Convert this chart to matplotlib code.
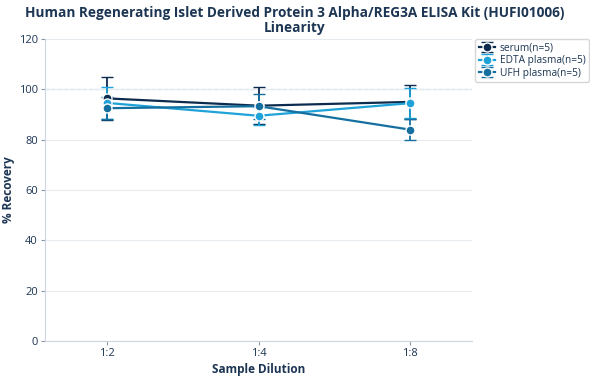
import numpy as np
import matplotlib.pyplot as plt

plt.rcParams['font.family'] = ['Open Sans', 'DejaVu Sans']

dilutions = ['1:2', '1:4', '1:8']
series = ['serum(n=5)', 'EDTA plasma(n=5)', 'UFH plasma(n=5)']
serum = [96.4, 93.5, 95.0]
serum_sd = [8.6, 7.3, 6.7]
edta = [94.6, 89.5, 94.5]
edta_sd = [6.3, 3.6, 6.0]
ufh = [92.5, 93.3, 84.0]
ufh_sd = [4.4, 5.0, 4.2]
colors = ['#0d2b4e', '#1ea2d8', '#15709f']

txt = '#1c3553'
fig = plt.figure(figsize=(5.9, 3.8), dpi=100)
ax = fig.add_axes([45/590, 39/380, 427/590, 302/380])

x = np.arange(len(dilutions))
for vals, sd, c, lab in zip([serum, edta, ufh], [serum_sd, edta_sd, ufh_sd], colors, series):
    ax.errorbar(x, vals, yerr=sd, color=c, lw=1.6, marker='o', ms=6.5,
                mec='white', mew=1, capsize=4, capthick=1.4, elinewidth=1.3,
                label=lab)

ax.axhline(100, color='#8fcbe0', ls=(0, (3, 2)), lw=0.9, zorder=0)
ax.set_ylim(0, 120)
ax.set_yticks(range(0, 121, 20))
ax.set_xlim(-0.41, 2.41)
ax.set_xticks(x)
ax.set_xticklabels(dilutions)
ax.grid(axis='y', color='#e6ebf0', lw=0.8)
ax.set_axisbelow(True)
for s in ['top', 'right']:
    ax.spines[s].set_visible(False)
for s in ['left', 'bottom']:
    ax.spines[s].set_color('#ccd6e0')
ax.tick_params(colors='#8a9aaa', labelcolor=txt, labelsize=8, length=3, pad=2)

ax.set_xlabel('Sample Dilution', fontsize=8.5, fontweight='bold', color=txt, labelpad=3)
ax.set_ylabel('% Recovery', fontsize=8.5, fontweight='bold', color=txt, labelpad=3)
fig.suptitle('Human Regenerating Islet Derived Protein 3 Alpha/REG3A ELISA Kit (HUFI01006)\nLinearity',
             x=0.5, y=0.985, fontsize=9.8, fontweight='bold', color=txt, linespacing=1.15)

leg = ax.legend(loc='upper left', bbox_to_anchor=(1.0, 1.01), fontsize=7.3,
                frameon=True, handlelength=1.6, borderpad=0.35, labelspacing=0.15,
                handletextpad=0.5, borderaxespad=0.3)
leg.get_frame().set_edgecolor('#cccccc')
for t in leg.get_texts():
    t.set_color(txt)

fig.savefig('out.png', dpi=100)
